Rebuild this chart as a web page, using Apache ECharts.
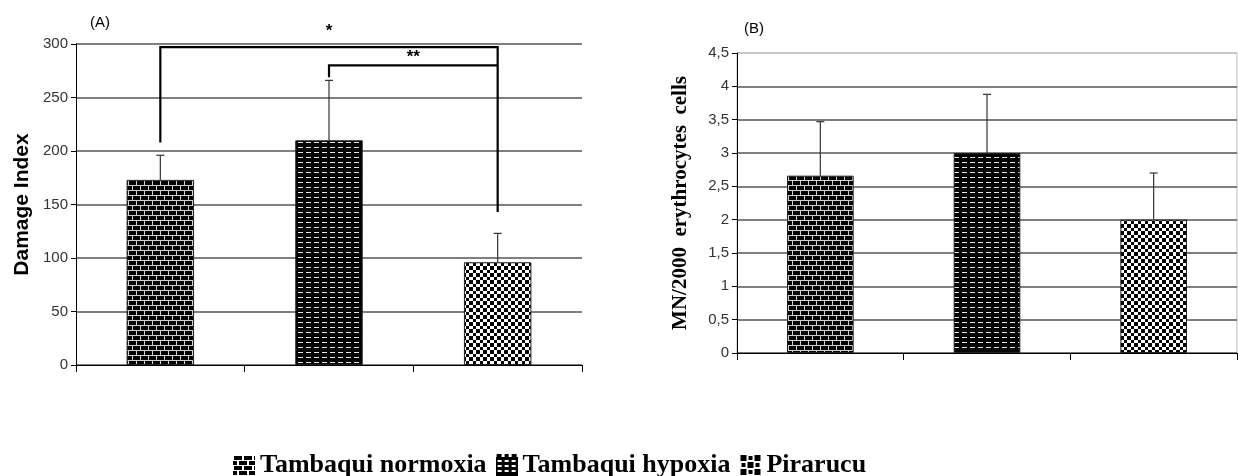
<!DOCTYPE html>
<html>
<head>
<meta charset="utf-8">
<script src="https://cdn.jsdelivr.net/npm/echarts@6/dist/echarts.min.js"></script>
<style>
html,body{margin:0;padding:0;background:#fff;}
#main{width:1238px;height:476px;}
</style>
</head>
<body>
<div id="main"></div>
<script>
// ---- data ----
const categories = ['Tambaqui normoxia', 'Tambaqui hypoxia', 'Pirarucu'];
const damageIndex = [173, 210, 96];
const damageErr = [23, 56, 27];
const mnCells = [2.66, 3.0, 2.0];
const mnErr = [0.81, 0.88, 0.70];
const damageTicks = { min: 0, max: 300, interval: 50 };
const mnTicks = { min: 0, max: 4.5, interval: 0.5 };
// significance brackets
const bracketFrom = [0, 1];
const bracketTo = [2, 2];
const bracketLine = [297, 280];
const bracketLeftEnd = [208, 269];
const bracketRightEnd = [143, 280];
const bracketLabel = ['*', '**'];
const bracketLabelValue = [312, 288];

// ---- patterns ----
function mk(w, h, draw) {
  const c = document.createElement('canvas');
  c.width = w; c.height = h;
  const g = c.getContext('2d');
  draw(g, w, h);
  return c;
}
function brick() {
  return mk(8, 10, (g, w, h) => {
    g.fillStyle = '#000'; g.fillRect(0, 0, w, h);
    g.fillStyle = '#d0d0d0';
    g.fillRect(0, 0, w, 1); g.fillRect(0, 5, w, 1);
    g.fillRect(0, 0, 1, 5); g.fillRect(4, 5, 1, 5);
  });
}
function dash() {
  return mk(8, 5, (g, w, h) => {
    g.fillStyle = '#000'; g.fillRect(0, 0, w, h);
    g.fillStyle = '#e8e8e8'; g.fillRect(2, 2, 5, 1);
  });
}
function checker() {
  return mk(7, 7, (g, w, h) => {
    g.fillStyle = '#fff'; g.fillRect(0, 0, w, h);
    g.fillStyle = '#000'; g.fillRect(0, 0, 4, 4); g.fillRect(4, 4, 3, 3);
  });
}
const patterns = [brick(), dash(), checker()];
function iconURL(kind) {
  const c = mk(22, 22, (g) => {
    g.fillStyle = '#fff'; g.fillRect(0, 0, 22, 22);
    g.fillStyle = '#000';
    if (kind === 0) {
      for (let r = 0; r < 4; r++) {
        const off = r % 2 ? 5 : 0;
        for (let x = -10; x < 22; x += 10) g.fillRect(x + off + 1, r * 5 + 2, 8, 4);
      }
    } else if (kind === 1) {
      g.fillRect(0, 3, 22, 19);
      g.fillRect(1, 0, 5, 3); g.fillRect(9, 0, 4, 3); g.fillRect(16, 0, 5, 3);
      g.fillStyle = '#fff';
      for (let r = 0; r < 3; r++) for (let x = 2; x < 21; x += 7) g.fillRect(x, 6 + r * 5, 4, 2);
    } else {
      for (let r = 0; r < 3; r++) for (let q = 0; q < 3; q++) if ((r + q) % 2 === 0) g.fillRect(q * 7 + 1, r * 7 + 1, 6, 6);
      for (let r = 0; r < 3; r++) for (let q = 0; q < 3; q++) if ((r + q) % 2 === 1) g.fillRect(q * 7 + 2, r * 7 + 2, 4, 4);
    }
  });
  return 'image://' + c.toDataURL();
}

const chart = echarts.init(document.getElementById('main'), null, { renderer: 'canvas' });

function barSeries(values, axisIdx) {
  return categories.map((name, i) => ({
    name: name,
    type: 'bar',
    xAxisIndex: axisIdx, yAxisIndex: axisIdx,
    barWidth: '40%', barGap: '-100%',
    data: categories.map((c, j) => (j === i ? values[i] : '-')),
    itemStyle: { color: { image: patterns[i], repeat: 'repeat' }, borderColor: '#222', borderWidth: 1 },
    emphasis: { disabled: true },
    animation: false,
    z: 2
  }));
}
function errSeries(values, errs, axisIdx) {
  return {
    type: 'custom',
    xAxisIndex: axisIdx, yAxisIndex: axisIdx,
    data: values.map((v, i) => [i, v, v + errs[i]]),
    renderItem: function (params, api) {
      const p0 = api.coord([api.value(0), api.value(1)]);
      const p1 = api.coord([api.value(0), api.value(2)]);
      const st = { stroke: '#333', lineWidth: 1.2 };
      return {
        type: 'group',
        children: [
          { type: 'line', shape: { x1: p0[0], y1: p0[1], x2: p1[0], y2: p1[1] }, style: st },
          { type: 'line', shape: { x1: p1[0] - 4, y1: p1[1], x2: p1[0] + 4, y2: p1[1] }, style: st }
        ]
      };
    },
    animation: false, silent: true, z: 5
  };
}
const bracketData = bracketFrom.map((f, i) => [f, bracketTo[i], bracketLine[i], bracketLeftEnd[i], bracketRightEnd[i], bracketLabelValue[i], i]);

const axisFont = { fontFamily: 'Liberation Sans, Arial', fontSize: 15, color: '#333' };
const catTick = { show: true, interval: 0, alignWithLabel: false, length: 7, lineStyle: { color: '#000' } };

const option = {
  animation: false,
  backgroundColor: '#fff',
  title: [
    { text: '(A)', left: 85, top: 10, textStyle: { fontFamily: 'Liberation Sans, Arial', fontSize: 15, fontWeight: 'normal', color: '#000' } },
    { text: '(B)', left: 739, top: 16, textStyle: { fontFamily: 'Liberation Sans, Arial', fontSize: 15, fontWeight: 'normal', color: '#000' } }
  ],
  legend: {
    left: 228, top: 447,
    itemWidth: 22, itemHeight: 22, itemGap: 9,
    textStyle: { fontFamily: 'Liberation Serif, Times New Roman', fontWeight: 'bold', fontSize: 26, color: '#000' },
    data: categories.map((c, i) => ({ name: c, icon: iconURL(i) })),
    selectedMode: false
  },
  grid: [
    { left: 76, top: 44, width: 506, height: 321 },
    { left: 737, top: 53, width: 500, height: 300, show: true, borderColor: '#bdbdbd', borderWidth: 1 }
  ],
  xAxis: [
    { type: 'category', gridIndex: 0, data: categories, axisLabel: { show: false },
      axisLine: { lineStyle: { color: '#000', width: 1 } }, axisTick: catTick },
    { type: 'category', gridIndex: 1, data: categories, axisLabel: { show: false },
      axisLine: { lineStyle: { color: '#000', width: 1 } }, axisTick: catTick }
  ],
  yAxis: [
    { type: 'value', gridIndex: 0, min: damageTicks.min, max: damageTicks.max, interval: damageTicks.interval,
      name: 'Damage Index', nameLocation: 'middle', nameGap: 43, nameRotate: 90,
      nameTextStyle: { fontFamily: 'Liberation Sans, Arial', fontWeight: 'bold', fontSize: 21, color: '#000' },
      axisLine: { show: true, lineStyle: { color: '#000' } }, axisTick: { show: true, length: 5, lineStyle: { color: '#000' } },
      axisLabel: Object.assign({ margin: 8 }, axisFont),
      splitLine: { lineStyle: { color: '#555', width: 1.5 } } },
    { type: 'value', gridIndex: 1, min: mnTicks.min, max: mnTicks.max, interval: mnTicks.interval,
      name: 'MN/2000  erythrocytes  cells', nameLocation: 'middle', nameGap: 46, nameRotate: 90,
      nameTextStyle: { fontFamily: 'Liberation Serif, Times New Roman', fontWeight: 'bold', fontSize: 21, color: '#000' },
      axisLine: { show: true, lineStyle: { color: '#000' } }, axisTick: { show: true, length: 5, lineStyle: { color: '#000' } },
      axisLabel: Object.assign({ margin: 8, formatter: v => String(v).replace('.', ',') }, axisFont),
      splitLine: { lineStyle: { color: ['#555', '#555', '#555', '#555', '#555', '#555', '#555', '#555', '#555', '#bdbdbd'], width: 1.5 } } }
  ],
  series: [
    ...barSeries(damageIndex, 0),
    ...barSeries(mnCells, 1),
    errSeries(damageIndex, damageErr, 0),
    errSeries(mnCells, mnErr, 1),
    {
      type: 'custom', xAxisIndex: 0, yAxisIndex: 0,
      data: bracketData, clip: false,
      renderItem: function (params, api) {
        const a = api.coord([api.value(0), api.value(2)]);
        const b = api.coord([api.value(1), api.value(2)]);
        const aEnd = api.coord([api.value(0), api.value(3)]);
        const bEnd = api.coord([api.value(1), api.value(4)]);
        const ly = api.coord([api.value(0), api.value(5)])[1];
        const lx = (a[0] + b[0]) / 2;
        const st = { stroke: '#000', lineWidth: 2.2, fill: null };
        return {
          type: 'group',
          children: [
            { type: 'polyline', shape: { points: [aEnd, a, b, bEnd] }, style: st },
            { type: 'text', x: lx, y: ly, style: { text: bracketLabel[api.value(6)], fill: '#000', font: 'bold 17px Liberation Sans, Arial', align: 'center', verticalAlign: 'middle' } }
          ]
        };
      },
      animation: false, silent: true, z: 6
    }
  ]
};
chart.setOption(option);
</script>
</body>
</html>
